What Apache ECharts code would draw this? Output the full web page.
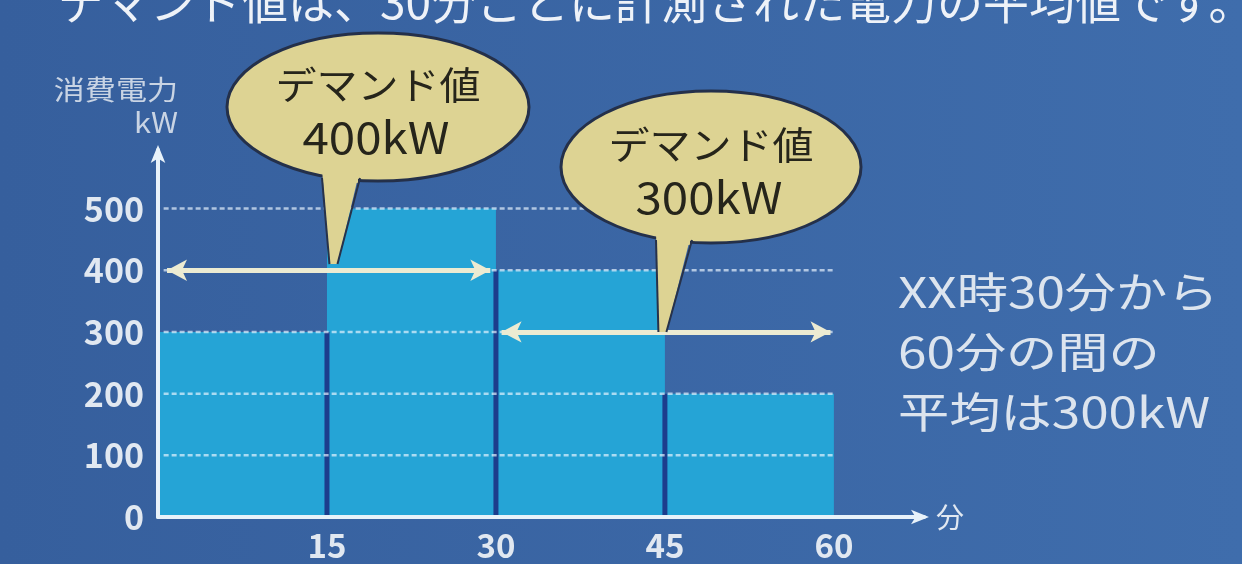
<!DOCTYPE html>
<html>
<head>
<meta charset="utf-8">
<script src="https://cdn.jsdelivr.net/npm/echarts@6/dist/echarts.min.js"></script>
<style>html,body{margin:0;padding:0;background:#3b66a5;}#c{width:1242px;height:564px;}</style>
</head>
<body>
<div id="c"></div>
<script>
// ---- data ----
const minuteBounds = [0, 15, 30, 45, 60];
const power = [300, 500, 400, 200];
const yTicks = [0, 100, 200, 300, 400, 500];
const xTicks = [15, 30, 45, 60];
const demandLabels = ['デマンド値', 'デマンド値'];
const demandValues = ['400kW', '300kW'];
const demandFrom = [0, 30];
const demandTo = [30, 60];
const demandLevel = [400, 300];
const noteLines = ['XX時30分から', '60分の間の', '平均は300kW'];
const yName = ['消費電力', 'kW'];
const xName = '分';
const topText = 'デマンド値は、30分ごとに計測された電力の平均値です。';

const FONT = '"Noto Sans CJK JP", "Noto Sans", sans-serif';
const TXT = '#e1e8f1';

const barData = power.map((v, i) => [minuteBounds[i], minuteBounds[i + 1], v, i > 0 ? power[i - 1] : 0]);
const gridData = yTicks.filter(v => v > 0).map(v => [v]);

const chart = echarts.init(document.getElementById('c'), null, {renderer: 'canvas'});

const option = {
  backgroundColor: {
    type: 'linear', x: 0, y: 0, x2: 1, y2: 0,
    colorStops: [{offset: 0, color: '#365f9d'}, {offset: 1, color: '#3f6dac'}]
  },
  animation: false,
  grid: {left: 158, right: 318, top: 150, bottom: 47, containLabel: false},
  xAxis: {
    type: 'value', min: 0, max: 68, interval: 15, z: 5,
    axisLine: {show: true, symbol: ['none', 'arrow'], symbolSize: [11, 18], symbolOffset: [0, 5],
      lineStyle: {color: '#e8f2fa', width: 4}},
    axisTick: {show: false},
    splitLine: {show: false},
    axisLabel: {
      color: TXT, fontSize: 33, fontWeight: 'bold', fontFamily: FONT, margin: 12,
      formatter: v => xTicks.includes(v) ? String(v) : ''
    },
    name: xName, nameLocation: 'end', nameGap: 12,
    nameTextStyle: {color: TXT, fontSize: 28, fontFamily: FONT, padding: [14, 0, 0, 0]}
  },
  yAxis: {
    type: 'value', min: 0, max: 595, interval: 100, z: 5,
    axisLine: {show: true, symbol: ['none', 'arrow'], symbolSize: [11, 18], symbolOffset: [0, 5],
      lineStyle: {color: '#e8f2fa', width: 4}},
    axisTick: {show: false},
    splitLine: {show: false},
    axisLabel: {
      color: TXT, fontSize: 34, fontWeight: 'bold', fontFamily: FONT, margin: 14,
      formatter: v => yTicks.includes(v) ? String(v) : ''
    }
  },
  series: [
    {
      type: 'custom',
      coordinateSystem: 'cartesian2d',
      encode: {x: [0, 1], y: 2},
      z: 2,
      data: barData,
      renderItem: function (params, api) {
        const s = api.value(0), e = api.value(1), v = api.value(2), prev = api.value(3);
        const p0 = api.coord([s, 0]);
        const p1 = api.coord([e, v]);
        const children = [{
          type: 'rect',
          shape: {x: p0[0], y: p1[1], width: p1[0] - p0[0], height: p0[1] - p1[1]},
          style: {fill: '#25a4d6'}
        }];
        if (prev > 0) {
          const pm = api.coord([s, Math.min(v, prev)]);
          children.push({
            type: 'line',
            shape: {x1: p0[0], y1: p0[1], x2: p0[0], y2: pm[1]},
            style: {stroke: '#1c3d8c', lineWidth: 5}
          });
        }
        return {type: 'group', children: children};
      }
    },
    {
      type: 'custom',
      coordinateSystem: 'cartesian2d',
      encode: {y: 0},
      z: 3,
      data: gridData,
      renderItem: function (params, api) {
        const v = api.value(0);
        const a = api.coord([0.5, v]);
        const b = api.coord([60, v]);
        return {
          type: 'line',
          shape: {x1: a[0], y1: a[1], x2: b[0], y2: b[1]},
          style: {stroke: 'rgba(235,245,255,0.68)', lineWidth: 2.5, lineDash: [5, 3]}
        };
      },
      markLine: {
        silent: true,
        z: 6,
        symbol: ['arrow', 'arrow'],
        symbolSize: [16, 20],
        label: {show: false},
        lineStyle: {color: '#ecebd2', width: 5, type: 'solid'},
        data: demandLevel.map((lv, i) => [
          {coord: [demandFrom[i] + (i === 0 ? 0.8 : 0.5), lv]},
          {coord: [demandTo[i] - (i === 0 ? 0.5 : 0.3), lv]}
        ])
      }
    }
  ]
};
chart.setOption(option);

// ---- annotations (callouts, notes) ----
function bubble(tip, cx, cy, rx, ry, baseL, baseR, line1, line2) {
  const fill = '#ddd393';
  return [
    {type: 'polygon', z: 100,
      shape: {points: [[baseL, cy + ry - 12], [baseR, cy + ry - 12], [tip[0] + 6, tip[1]], [tip[0] - 2, tip[1]]]},
      style: {fill: fill}},
    {type: 'polyline', z: 101,
      shape: {points: [[baseL, cy + ry - 3], [tip[0] - 2, tip[1]]]},
      style: {stroke: '#27324a', lineWidth: 2, fill: null}},
    {type: 'polyline', z: 101,
      shape: {points: [[baseR, cy + ry - 3], [tip[0] + 6, tip[1]]]},
      style: {stroke: '#27324a', lineWidth: 2, fill: null}},
    {type: 'ellipse', z: 99,
      shape: {cx: cx, cy: cy, rx: rx, ry: ry},
      style: {fill: fill, stroke: '#24304a', lineWidth: 3}},
    {type: 'rect', z: 100,
      shape: {x: baseL + 2, y: cy + ry - 14, width: baseR - baseL - 4, height: 16},
      style: {fill: fill}},
    {type: 'text', z: 102, x: cx, y: cy - 22, scaleX: 1.08,
      style: {text: line1, font: '38px ' + FONT, fill: '#26251b', textAlign: 'center', textVerticalAlign: 'middle'}},
    {type: 'text', z: 102, x: cx - 2, y: cy + 30, scaleX: 1.08,
      style: {text: line2, font: '44px ' + FONT, fill: '#26251b', textAlign: 'center', textVerticalAlign: 'middle'}}
  ];
}

const tip1 = chart.convertToPixel({gridIndex: 0}, [15.4, 410]);
const tip2 = chart.convertToPixel({gridIndex: 0}, [44.6, 300]);
const origin = chart.convertToPixel({gridIndex: 0}, [0, 0]);

const g = [];
g.push(...bubble(tip1, 378, 107, 151, 74, 322, 360, demandLabels[0], demandValues[0]));
g.push(...bubble(tip2, 711, 167, 150, 76, 656, 692, demandLabels[1], demandValues[1]));

noteLines.forEach((t, i) => {
  g.push({type: 'text', z: 50, x: 898, y: 292 + i * 60, scaleX: 1.22,
    style: {text: t, font: '42px ' + FONT, fill: '#dce4ee', textAlign: 'left', textVerticalAlign: 'middle'}});
});

g.push({type: 'text', z: 50, x: origin[0] + 20, y: 90, scaleX: 1.15,
  style: {text: yName[0], font: '27px ' + FONT, fill: '#c9d4e4', textAlign: 'right', textVerticalAlign: 'middle'}});
g.push({type: 'text', z: 50, x: origin[0] + 20, y: 122, scaleX: 1.1,
  style: {text: yName[1], font: '28px ' + FONT, fill: '#c9d4e4', textAlign: 'right', textVerticalAlign: 'middle'}});

g.push({type: 'text', z: 50, x: 58, y: 25,
  style: {text: topText, font: '46px ' + FONT, fill: '#eef2f8', textAlign: 'left', textVerticalAlign: 'bottom'}});

chart.setOption({graphic: {elements: g}});
</script>
</body>
</html>
